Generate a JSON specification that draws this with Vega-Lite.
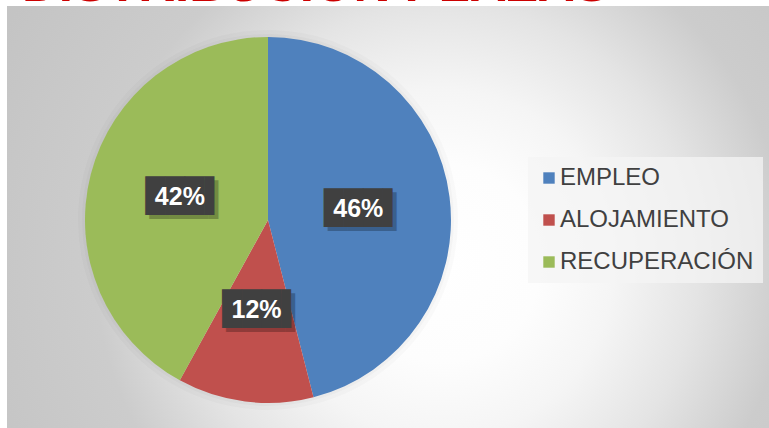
{
  "$schema": "https://vega.github.io/schema/vega-lite/v6.json",
  "width": 762,
  "height": 422,
  "autosize": {"type": "none"},
  "padding": {"left": 7, "top": 6, "right": 0, "bottom": 0},
  "background": "#ffffff",
  "title": {
    "text": "DISTRIBUCIÓN PLAZAS",
    "anchor": "start",
    "font": "Liberation Sans",
    "fontSize": 51,
    "fontWeight": "bold",
    "color": "#cc0000",
    "baseline": "alphabetic",
    "offset": -46,
    "dx": 15,
    "zindex": 1
  },
  "config": {
    "view": {"stroke": null},
    "legend": {
      "labelFont": "Liberation Sans",
      "labelFontSize": 24,
      "labelColor": "#404040",
      "labelLimit": 400,
      "symbolType": "square",
      "symbolSize": 130,
      "symbolStrokeWidth": 0,
      "symbolOpacity": 1,
      "fillColor": "rgba(244,244,244,0.75)",
      "padding": 9,
      "rowPadding": 18,
      "labelOffset": -1
    }
  },
  "datasets": {
    "plazas": [
      {"categoria": "EMPLEO", "valor": 0.46, "orden": 1},
      {"categoria": "ALOJAMIENTO", "valor": 0.12, "orden": 2},
      {"categoria": "RECUPERACIÓN", "valor": 0.42, "orden": 3}
    ],
    "fondo": [{"fondo": 1}]
  },
  "layer": [
    {
      "data": {"name": "fondo"},
      "mark": {
        "type": "rect",
        "fill": {
          "gradient": "radial",
          "x1": 0.57, "y1": 0.56, "r1": 0,
          "x2": 0.57, "y2": 0.56, "r2": 0.65,
          "stops": [
            {"offset": 0, "color": "#ffffff"},
            {"offset": 0.2, "color": "#fdfdfd"},
            {"offset": 0.35, "color": "#f5f5f5"},
            {"offset": 0.52, "color": "#e4e4e4"},
            {"offset": 0.7, "color": "#cccccc"},
            {"offset": 1, "color": "#c4c4c4"}
          ]
        }
      },
      "encoding": {}
    },
    {
      "data": {"name": "fondo"},
      "mark": {"type": "arc", "outerRadius": 190, "fill": "#000000", "opacity": 0.02,
        "x": {"expr": "width*0.3425"}, "y": {"expr": "height*0.507"}},
      "encoding": {}
    },
    {
      "data": {"name": "fondo"},
      "mark": {"type": "arc", "outerRadius": 186, "fill": "#000000", "opacity": 0.025,
        "x": {"expr": "width*0.3425"}, "y": {"expr": "height*0.507"}},
      "encoding": {}
    },
    {
      "data": {"name": "plazas"},
      "mark": {"type": "arc", "outerRadius": 183,
        "x": {"expr": "width*0.3425"}, "y": {"expr": "height*0.507"}},
      "encoding": {
        "theta": {"field": "valor", "type": "quantitative", "stack": true},
        "order": {"field": "orden", "type": "quantitative"},
        "color": {
          "field": "categoria",
          "type": "nominal",
          "scale": {
            "domain": ["EMPLEO", "ALOJAMIENTO", "RECUPERACIÓN"],
            "range": ["#4f81bd", "#c0504d", "#9bbb59"]
          },
          "legend": {"title": null, "orient": "none", "legendX": 521, "legendY": 151}
        }
      }
    },
    {
      "data": {"name": "plazas"},
      "mark": {"type": "text", "radius": 91, "font": "DejaVu Sans Mono", "fontSize": 32.6,
        "color": "#000000", "opacity": 0.25, "align": "center", "baseline": "middle", "dx": 9, "dy": 4,
        "x": {"expr": "width*0.3425"}, "y": {"expr": "height*0.507"}},
      "encoding": {
        "theta": {"field": "valor", "type": "quantitative", "stack": true},
        "order": {"field": "orden", "type": "quantitative"},
        "text": {"value": "███▌"}
      }
    },
    {
      "data": {"name": "plazas"},
      "mark": {"type": "text", "radius": 91, "font": "DejaVu Sans Mono", "fontSize": 32.6,
        "color": "#404040", "align": "center", "baseline": "middle", "dx": 5,
        "x": {"expr": "width*0.3425"}, "y": {"expr": "height*0.507"}},
      "encoding": {
        "theta": {"field": "valor", "type": "quantitative", "stack": true},
        "order": {"field": "orden", "type": "quantitative"},
        "text": {"value": "███▌"}
      }
    },
    {
      "data": {"name": "plazas"},
      "mark": {"type": "text", "radius": 91, "font": "Liberation Sans", "fontSize": 25,
        "fontWeight": "bold", "color": "#ffffff", "align": "center", "baseline": "middle",
        "x": {"expr": "width*0.3425"}, "y": {"expr": "height*0.507"}},
      "encoding": {
        "theta": {"field": "valor", "type": "quantitative", "stack": true},
        "order": {"field": "orden", "type": "quantitative"},
        "text": {"field": "valor", "type": "quantitative", "format": ".0%"}
      }
    }
  ]
}
